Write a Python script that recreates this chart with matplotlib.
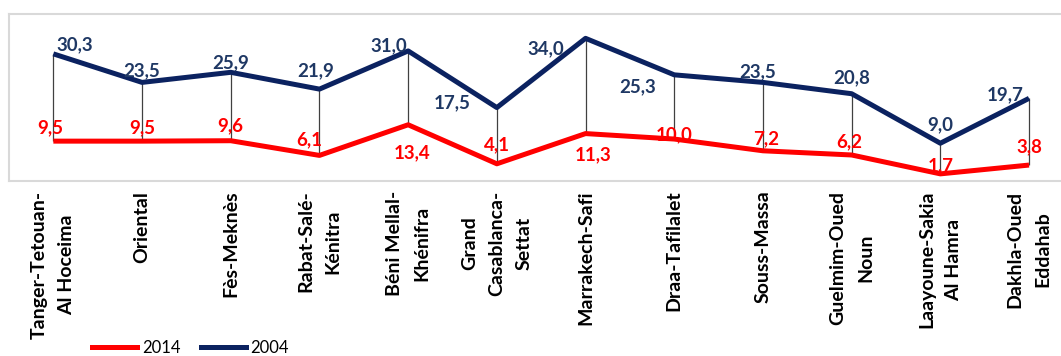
import matplotlib
matplotlib.use("Agg")
import matplotlib.pyplot as plt
from matplotlib.lines import Line2D

categories = ["Tanger-Tetouan-\nAl Hoceima", "Oriental", "Fès-Meknès", "Rabat-Salé-\nKénitra",
              "Béni Mellal-\nKhénifra", "Grand\nCasablanca-\nSettat", "Marrakech-Safi",
              "Draa-Tafilalet", "Souss-Massa", "Guelmim-Oued\nNoun", "Laayoune-Sakia\nAl Hamra",
              "Dakhla-Oued\nEddahab"]
v2014 = [9.5, 9.5, 9.6, 6.1, 13.4, 4.1, 11.3, 10.0, 7.2, 6.2, 1.7, 3.8]
v2004 = [30.3, 23.5, 25.9, 21.9, 31.0, 17.5, 34.0, 25.3, 23.5, 20.8, 9.0, 19.7]
series_names = ["2014", "2004"]

# label offsets in pixels (dx, dy)
off2004 = [(21, 9), (0, 12), (0, 10), (-4, 18), (-19, 5), (-45, 5), (-40, -10),
           (-37, -12), (-5, 11), (0, 16), (0, 18), (-24, 4)]
off2014 = [(-3, 13), (0, 13), (0, 15), (-10, 16), (4, -28), (0, 19), (8, -21),
           (0, 4), (3, 12), (-2, 13), (0, 8), (0, 18)]

RED = "#FF0000"
NAVY = "#0B2260"
NAVY_TXT = "#1F3864"
FONT = "Lato"

W, H = 1061, 356
fig = plt.figure(figsize=(W / 100, H / 100), dpi=100)
ax = fig.add_axes([9 / W, 1 - 181 / H, 1 - 9 / W, (181 - 14) / H])

x = list(range(len(categories)))
lo = [min(a, b) for a, b in zip(v2014, v2004)]
hi = [max(a, b) for a, b in zip(v2014, v2004)]
ax.vlines(x, lo, hi, color="#404040", lw=0.9, zorder=1)
ax.plot(x, v2014, color=RED, lw=3.6, zorder=3, solid_capstyle="butt")
ax.plot(x, v2004, color=NAVY, lw=3.6, zorder=3, solid_capstyle="butt")

for i in x:
    ax.annotate(f"{v2004[i]:.1f}".replace(".", ","), (i, v2004[i]), xytext=off2004[i],
                textcoords="offset pixels", ha="center", va="center", color=NAVY_TXT,
                fontsize=13.5, fontweight="bold", family=FONT, zorder=4)
    ax.annotate(f"{v2014[i]:.1f}".replace(".", ","), (i, v2014[i]), xytext=off2014[i],
                textcoords="offset pixels", ha="center", va="center", color=RED,
                fontsize=13.5, fontweight="bold", family=FONT, zorder=4)

ax.set_xlim(-0.5, (W - 53) / 88.73)
ax.set_ylim(0, 39.8)
ax.set_yticks([])
ax.set_xticks(x)
ax.set_xticklabels(categories, rotation=90, ha="center", va="top", multialignment="center",
                   fontsize=14, fontweight="bold", family=FONT, linespacing=1.75)
ax.tick_params(axis="x", length=0, pad=7)
for s in ["top", "left", "bottom"]:
    ax.spines[s].set_color("#D9D9D9")
    ax.spines[s].set_linewidth(1.5)
ax.spines["right"].set_visible(False)

handles = [Line2D([], [], color=RED, lw=3.6), Line2D([], [], color=NAVY, lw=3.6)]
fig.legend(handles, series_names, loc="center left", bbox_to_anchor=(92 / W, 1 - 348 / H),
           ncol=2, frameon=False, borderpad=0, borderaxespad=0, handlelength=2.7,
           handletextpad=0.3, columnspacing=1.2,
           prop={"family": FONT, "size": 12})

fig.savefig("out.png", dpi=100)
